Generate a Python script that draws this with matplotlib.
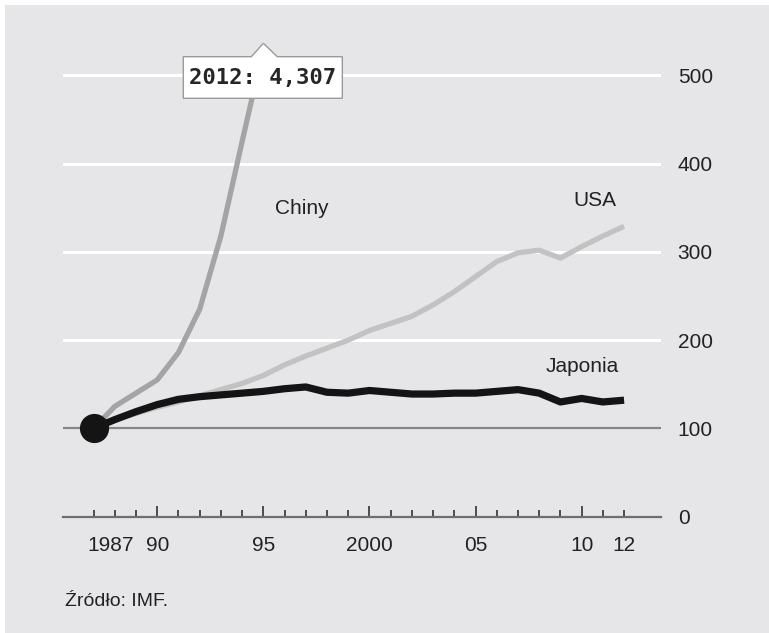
import matplotlib
matplotlib.use("Agg")
import matplotlib.pyplot as plt
import matplotlib.transforms as mtransforms
from matplotlib.patches import Polygon, Rectangle

plt.rcParams['font.family'] = ['Liberation Sans', 'DejaVu Sans']

# ---- data (index, 1987 = 100) ----
years = list(range(1987, 2013))
japan = [100, 110, 119, 127, 133, 136, 138, 140, 142, 145, 147, 141, 140,
         143, 141, 139, 139, 140, 140, 142, 144, 140, 130, 134, 130, 132]
usa = [100, 110, 117, 124, 130, 137, 144, 151, 160, 172, 182, 191, 200,
       211, 219, 227, 240, 255, 272, 289, 299, 302, 293, 306, 318, 329]
china_years = list(range(1987, 1996))
china = [100, 125, 140, 155, 186, 235, 318, 425, 530]

yticks = [0, 100, 200, 300, 400, 500]
xlabel_years = [1987, 1990, 1995, 2000, 2005, 2010, 2012]
xlabel_texts = ["1987", "90", "95", "2000", "05", "10", "12"]
major_years = [1990, 1995, 2000, 2005, 2010]
callout_text = "2012: 4,307"
source_text = "Źródło: IMF."

BG = '#e6e6e8'
W, H = 769, 633
fig = plt.figure(figsize=(W / 100, H / 100), dpi=100, facecolor='white')
fig.patches.append(Rectangle((5 / W, 0), 1 - 5 / W, 1 - 5 / H, transform=fig.transFigure,
                             facecolor=BG, edgecolor='none', zorder=-10))

ax = fig.add_axes([63 / W, (H - 516.7) / H, (661 - 63) / W, (516.7 - 20) / H])
ax.set_facecolor('none')
ax.set_xlim(1985.56, 2013.74)
ax.set_ylim(0, 562.8)

for s in ['top', 'left', 'right']:
    ax.spines[s].set_visible(False)
ax.spines['bottom'].set_color('#6e6e6e')
ax.spines['bottom'].set_linewidth(1.6)

# grid lines
for v in yticks[1:]:
    if v == 100:
        ax.axhline(v, color='#878787', lw=1.6, zorder=1)
    else:
        ax.axhline(v, color='white', lw=2.2, zorder=1)

# y labels on right
ax.yaxis.tick_right()
ax.set_yticks(yticks)
ax.set_yticklabels([str(v) for v in yticks])
ax.tick_params(axis='y', length=0, pad=12, labelsize=15, labelcolor='#222222')

# x ticks
ax.set_xticks(major_years)
ax.set_xticks([y for y in years if y not in major_years], minor=True)
ax.tick_params(axis='x', which='major', direction='in', length=8, width=1.2,
               color='#333333', labelbottom=False)
ax.tick_params(axis='x', which='minor', direction='in', length=5, width=1.2,
               color='#333333', labelbottom=False)

xt = ax.get_xaxis_transform()
for yr, lab in zip(xlabel_years, xlabel_texts):
    if yr == 1987:
        tr = xt + mtransforms.ScaledTranslation(-6 / 100, 0, fig.dpi_scale_trans)
        ax.text(yr, -0.057, lab, transform=tr, ha='left', va='center', fontsize=15,
                color='#222222')
    else:
        ax.text(yr, -0.057, lab, transform=xt, ha='center', va='center', fontsize=15,
                color='#222222')

# lines
ax.plot(china_years, china, color='#a4a4a4', lw=3.8, zorder=3, solid_capstyle='butt')
ax.plot(years, usa, color='#c2c2c2', lw=3.8, zorder=3, solid_capstyle='butt')
ax.plot(years, japan, color='#141414', lw=5.2, zorder=4, solid_capstyle='butt')
ax.plot([years[0]], [japan[0]], 'o', ms=20, color='#141414', zorder=5, clip_on=False)

# series labels
lbl = dict(fontsize=15, color='#222222', va='center', ha='left', zorder=6,
           bbox=dict(boxstyle='square,pad=0.25', facecolor=BG, edgecolor='none'))
ax.text(1995.56, 349, "Chiny", **lbl)
ax.text(2009.63, 358, "USA", **lbl)
ax.text(2008.3, 170, "Japonia", **lbl)

# callout box with pointer, anchored at China's last plotted year
anchor = mtransforms.ScaledTranslation(china_years[-1], 536.4, ax.transData)
tr = fig.dpi_scale_trans + anchor
px = lambda x, y: (x / 100, y / 100)
verts = [px(0, 0), px(14, -13.4), px(79, -13.4), px(79, -55), px(-80, -55),
         px(-80, -13.4), px(-12, -13.4)]
poly = Polygon(verts, closed=True, transform=tr, facecolor='white', edgecolor='#9a9a9a',
               lw=1.0, zorder=7, clip_on=False)
ax.add_patch(poly)
ax.text(-0.5 / 100, -34.5 / 100, callout_text, transform=tr, ha='center', va='center',
        fontsize=16, fontweight='bold', family='DejaVu Sans Mono', color='#262626',
        zorder=8, clip_on=False)

fig.text(65 / W, 1 - 602 / H, source_text, fontsize=14, color='#222222', va='center',
         ha='left')

fig.savefig('out.png', dpi=100, facecolor='white')
